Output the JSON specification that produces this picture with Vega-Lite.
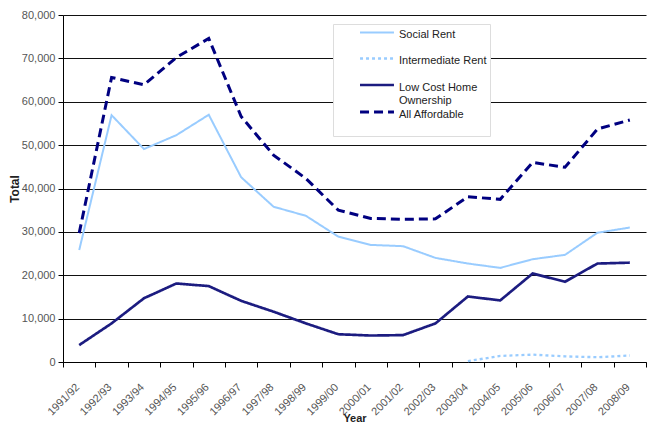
{
  "$schema": "https://vega.github.io/schema/vega-lite/v6.json",
  "width": 583,
  "height": 347,
  "autosize": {"type": "none"},
  "padding": {"left": 63, "top": 15, "right": 2, "bottom": 63},
  "background": "white",
  "config": {
    "view": {"stroke": null},
    "font": "Liberation Sans"
  },
  "data": {
    "values": [
      {"year": "1991/92", "series": "Social Rent", "total": 25800},
      {"year": "1992/93", "series": "Social Rent", "total": 56900},
      {"year": "1993/94", "series": "Social Rent", "total": 49100},
      {"year": "1994/95", "series": "Social Rent", "total": 52300},
      {"year": "1995/96", "series": "Social Rent", "total": 57000},
      {"year": "1996/97", "series": "Social Rent", "total": 42600},
      {"year": "1997/98", "series": "Social Rent", "total": 35800},
      {"year": "1998/99", "series": "Social Rent", "total": 33700},
      {"year": "1999/00", "series": "Social Rent", "total": 28900},
      {"year": "2000/01", "series": "Social Rent", "total": 27000},
      {"year": "2001/02", "series": "Social Rent", "total": 26700},
      {"year": "2002/03", "series": "Social Rent", "total": 24000},
      {"year": "2003/04", "series": "Social Rent", "total": 22700},
      {"year": "2004/05", "series": "Social Rent", "total": 21700},
      {"year": "2005/06", "series": "Social Rent", "total": 23700},
      {"year": "2006/07", "series": "Social Rent", "total": 24700},
      {"year": "2007/08", "series": "Social Rent", "total": 29800},
      {"year": "2008/09", "series": "Social Rent", "total": 31000},
      {"year": "2003/04", "series": "Intermediate Rent", "total": 200},
      {"year": "2004/05", "series": "Intermediate Rent", "total": 1400},
      {"year": "2005/06", "series": "Intermediate Rent", "total": 1700},
      {"year": "2006/07", "series": "Intermediate Rent", "total": 1300},
      {"year": "2007/08", "series": "Intermediate Rent", "total": 1100},
      {"year": "2008/09", "series": "Intermediate Rent", "total": 1500},
      {"year": "1991/92", "series": "Low Cost Home Ownership", "total": 3900},
      {"year": "1992/93", "series": "Low Cost Home Ownership", "total": 8900},
      {"year": "1993/94", "series": "Low Cost Home Ownership", "total": 14700},
      {"year": "1994/95", "series": "Low Cost Home Ownership", "total": 18100},
      {"year": "1995/96", "series": "Low Cost Home Ownership", "total": 17500},
      {"year": "1996/97", "series": "Low Cost Home Ownership", "total": 14100},
      {"year": "1997/98", "series": "Low Cost Home Ownership", "total": 11600},
      {"year": "1998/99", "series": "Low Cost Home Ownership", "total": 8900},
      {"year": "1999/00", "series": "Low Cost Home Ownership", "total": 6400},
      {"year": "2000/01", "series": "Low Cost Home Ownership", "total": 6100},
      {"year": "2001/02", "series": "Low Cost Home Ownership", "total": 6200},
      {"year": "2002/03", "series": "Low Cost Home Ownership", "total": 8900},
      {"year": "2003/04", "series": "Low Cost Home Ownership", "total": 15100},
      {"year": "2004/05", "series": "Low Cost Home Ownership", "total": 14200},
      {"year": "2005/06", "series": "Low Cost Home Ownership", "total": 20400},
      {"year": "2006/07", "series": "Low Cost Home Ownership", "total": 18500},
      {"year": "2007/08", "series": "Low Cost Home Ownership", "total": 22700},
      {"year": "2008/09", "series": "Low Cost Home Ownership", "total": 22900},
      {"year": "1991/92", "series": "All Affordable", "total": 29700},
      {"year": "1992/93", "series": "All Affordable", "total": 65600},
      {"year": "1993/94", "series": "All Affordable", "total": 63900},
      {"year": "1994/95", "series": "All Affordable", "total": 70200},
      {"year": "1995/96", "series": "All Affordable", "total": 74600},
      {"year": "1996/97", "series": "All Affordable", "total": 56600},
      {"year": "1997/98", "series": "All Affordable", "total": 47700},
      {"year": "1998/99", "series": "All Affordable", "total": 42300},
      {"year": "1999/00", "series": "All Affordable", "total": 35000},
      {"year": "2000/01", "series": "All Affordable", "total": 33100},
      {"year": "2001/02", "series": "All Affordable", "total": 32900},
      {"year": "2002/03", "series": "All Affordable", "total": 33000},
      {"year": "2003/04", "series": "All Affordable", "total": 38100},
      {"year": "2004/05", "series": "All Affordable", "total": 37500},
      {"year": "2005/06", "series": "All Affordable", "total": 46000},
      {"year": "2006/07", "series": "All Affordable", "total": 44900},
      {"year": "2007/08", "series": "All Affordable", "total": 53700},
      {"year": "2008/09", "series": "All Affordable", "total": 55800}
    ]
  },
  "mark": {"type": "line", "clip": false},
  "encoding": {
    "x": {
      "field": "year",
      "type": "ordinal",
      "bandPosition": 0.5,
      "scale": {"type": "band", "paddingInner": 0, "paddingOuter": 0},
      "axis": {
        "title": "Year",
        "titleFont": "Liberation Sans",
        "titleFontSize": 11,
        "titleFontWeight": "bold",
        "titleColor": "#222",
        "titlePadding": -4,
        "labelAngle": -45,
        "labelFontSize": 11,
        "labelColor": "#555",
        "labelPadding": 14,
        "labelOffset": -6,
        "tickBand": "extent",
        "tickSize": 5,
        "tickColor": "#000",
        "domainColor": "#000",
        "grid": false
      }
    },
    "y": {
      "field": "total",
      "type": "quantitative",
      "scale": {"domain": [0, 80000], "nice": false},
      "axis": {
        "title": "Total",
        "titleFontSize": 12,
        "titleFontWeight": "bold",
        "titleColor": "#222",
        "titlePadding": 0,
        "values": [0, 10000, 20000, 30000, 40000, 50000, 60000, 70000, 80000],
        "format": ",.0f",
        "labelFontSize": 11,
        "labelColor": "#555",
        "labelPadding": 3,
        "tickSize": 5,
        "tickColor": "#000",
        "domainColor": "#000",
        "grid": true,
        "gridColor": "#111",
        "gridWidth": 1
      }
    },
    "color": {
      "field": "series",
      "type": "nominal",
      "scale": {
        "domain": ["Social Rent", "Intermediate Rent", "Low Cost Home Ownership", "All Affordable"],
        "range": ["#99ccff", "#99ccff", "#1c1c80", "#000080"]
      },
      "legend": {
        "title": null,
        "orient": "none",
        "legendX": 270,
        "legendY": 9,
        "strokeColor": "#dddddd",
        "fillColor": "white",
        "padding": 3,
        "symbolType": "M-4,0H4",
        "symbolSize": 72,
        "symbolOffset": 35,
        "symbolFillColor": "transparent",
        "symbolStrokeWidth": 2.5,
        "labelOffset": 16,
        "labelFontSize": 11,
        "labelColor": "#222",
        "labelLimit": 200,
        "rowPadding": -5.5,
        "labelExpr": "datum.label == 'Low Cost Home Ownership' ? ['Low Cost Home', 'Ownership'] : [datum.label, '']",
        "encode": {
          "labels": {
            "update": {
              "dy": {"value": 2.5}
            }
          }
        }
      }
    },
    "strokeDash": {
      "field": "series",
      "type": "nominal",
      "scale": {
        "domain": ["Social Rent", "Intermediate Rent", "Low Cost Home Ownership", "All Affordable"],
        "range": [[1, 0], [3, 3], [1, 0], [9, 5]]
      },
      "legend": null
    },
    "strokeWidth": {
      "field": "series",
      "type": "nominal",
      "scale": {
        "domain": ["Social Rent", "Intermediate Rent", "Low Cost Home Ownership", "All Affordable"],
        "range": [2, 3, 1.6, 2.5]
      },
      "legend": null
    }
  }
}
